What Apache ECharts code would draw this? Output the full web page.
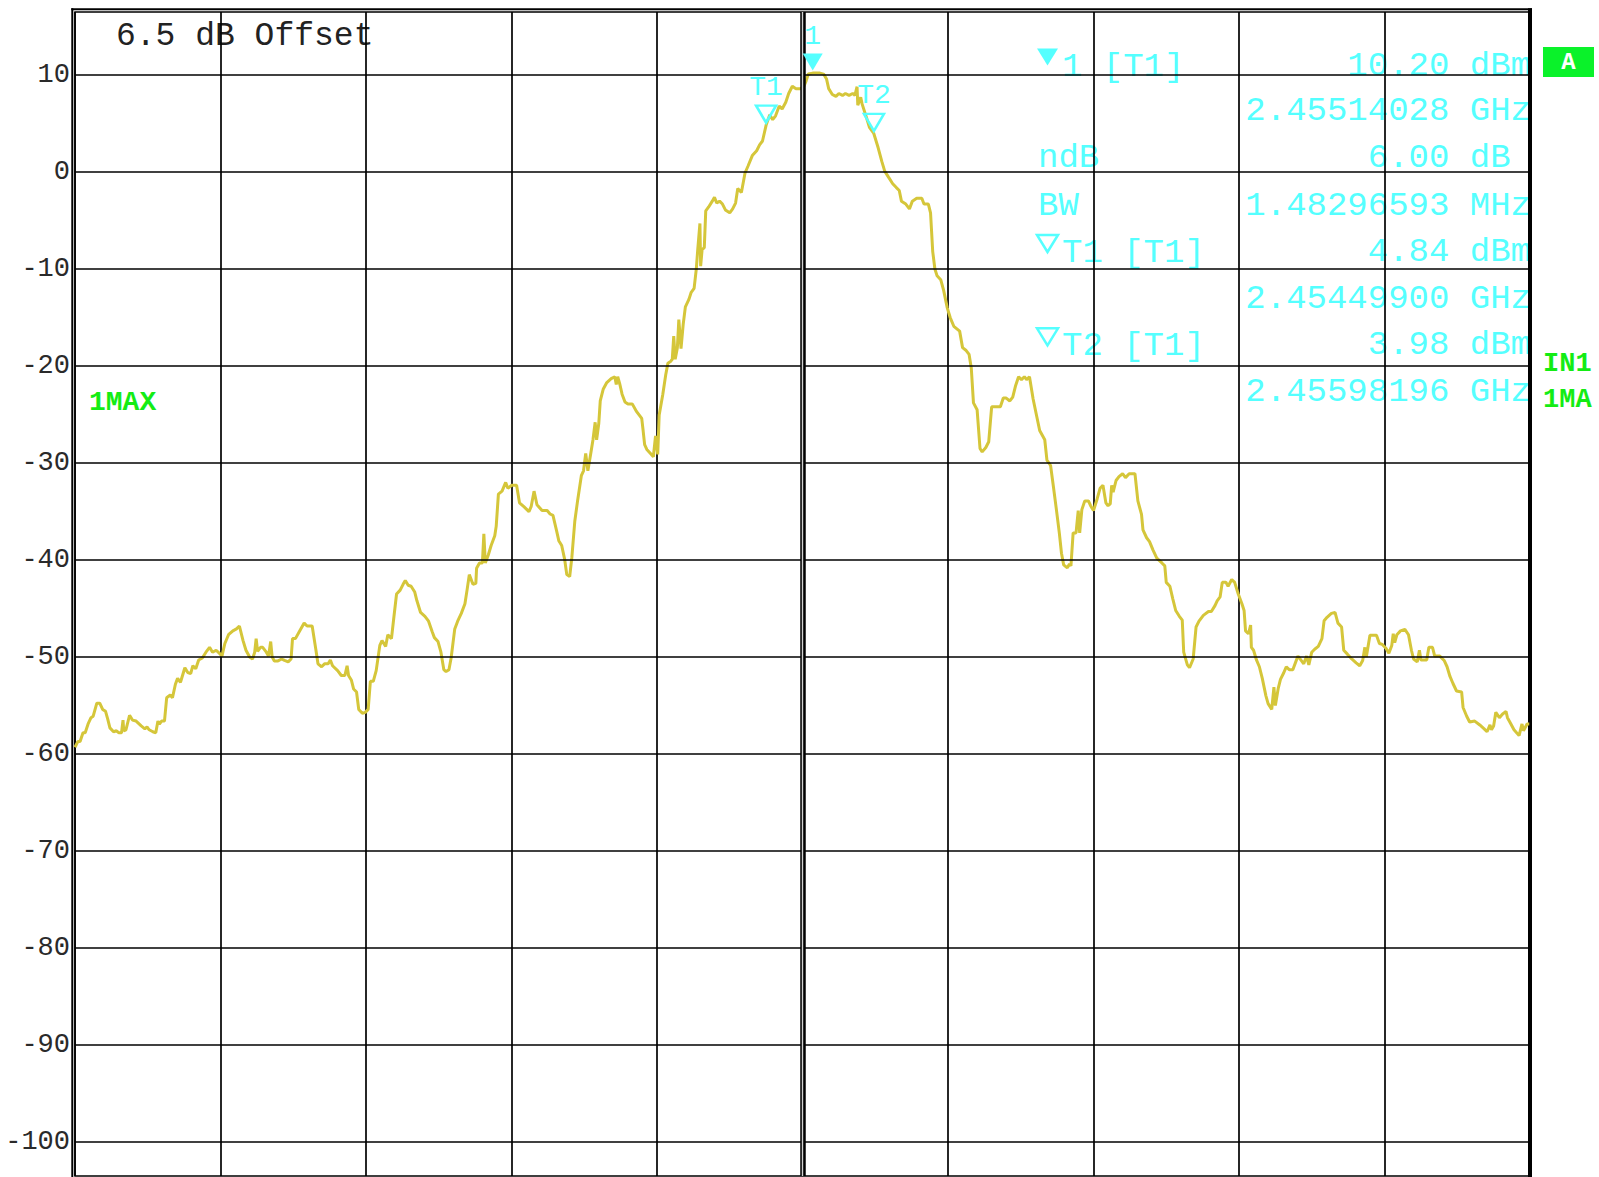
<!DOCTYPE html>
<html>
<head>
<meta charset="utf-8">
<title>Spectrum 2.455 GHz</title>
<script src="https://cdn.jsdelivr.net/npm/echarts@6/dist/echarts.min.js"></script>
<style>
  html, body { margin: 0; padding: 0; background: #fff; }
  #chart { width: 1599px; height: 1177px; }
</style>
</head>
<body>
<div id="chart"></div>
<script>
// frequency offset from centre 2.455 GHz (MHz), span 20 MHz
const offsetMHz = [
  -10.00, -9.96, -9.93, -9.89, -9.86, -9.82, -9.78, -9.75, -9.70, -9.66,
  -9.62, -9.58, -9.55, -9.52, -9.47, -9.43, -9.40, -9.36, -9.34, -9.33,
  -9.30, -9.25, -9.21, -9.16, -9.09, -9.04, -9.01, -8.98, -8.93, -8.89,
  -8.86, -8.84, -8.81, -8.77, -8.74, -8.69, -8.66, -8.62, -8.59, -8.55,
  -8.49, -8.45, -8.41, -8.38, -8.34, -8.30, -8.25, -8.20, -8.15, -8.11,
  -8.06, -8.01, -7.98, -7.94, -7.89, -7.83, -7.78, -7.74, -7.69, -7.65,
  -7.60, -7.56, -7.53, -7.51, -7.49, -7.45, -7.42, -7.37, -7.34, -7.31,
  -7.29, -7.26, -7.21, -7.16, -7.12, -7.07, -7.03, -7.01, -6.97, -6.91,
  -6.85, -6.81, -6.74, -6.69, -6.66, -6.61, -6.57, -6.52, -6.49, -6.46,
  -6.39, -6.34, -6.29, -6.26, -6.24, -6.20, -6.17, -6.13, -6.10, -6.05,
  -6.01, -5.97, -5.94, -5.90, -5.86, -5.81, -5.78, -5.73, -5.70, -5.65,
  -5.62, -5.58, -5.53, -5.49, -5.46, -5.42, -5.38, -5.33, -5.30, -5.25,
  -5.19, -5.14, -5.09, -5.06, -5.01, -4.97, -4.93, -4.90, -4.86, -4.83,
  -4.78, -4.74, -4.69, -4.64, -4.61, -4.58, -4.53, -4.49, -4.48, -4.44,
  -4.40, -4.38, -4.36, -4.32, -4.28, -4.23, -4.21, -4.18, -4.13, -4.08,
  -4.05, -4.00, -3.93, -3.89, -3.83, -3.76, -3.73, -3.69, -3.65, -3.58,
  -3.51, -3.47, -3.43, -3.38, -3.35, -3.31, -3.27, -3.24, -3.20, -3.17,
  -3.13, -3.09, -3.04, -3.01, -2.98, -2.95, -2.91, -2.88, -2.85, -2.83,
  -2.80, -2.78, -2.74, -2.69, -2.63, -2.58, -2.56, -2.54, -2.51, -2.48,
  -2.44, -2.40, -2.34, -2.28, -2.21, -2.19, -2.17, -2.14, -2.08, -2.05,
  -2.02, -1.99, -1.97, -1.92, -1.88, -1.85, -1.81, -1.79, -1.77, -1.75,
  -1.72, -1.70, -1.67, -1.64, -1.61, -1.56, -1.53, -1.49, -1.46, -1.44,
  -1.41, -1.40, -1.38, -1.35, -1.33, -1.29, -1.24, -1.21, -1.18, -1.14,
  -1.10, -1.06, -1.00, -0.96, -0.92, -0.89, -0.84, -0.79, -0.75, -0.69,
  -0.63, -0.59, -0.55, -0.50, -0.45, -0.41, -0.37, -0.32, -0.28, -0.23,
  -0.19, -0.14, -0.09, -0.03, 0.02, 0.05, 0.08, 0.14, 0.17, 0.24,
  0.29, 0.33, 0.36, 0.41, 0.46, 0.50, 0.55, 0.59, 0.64, 0.69,
  0.72, 0.75, 0.76, 0.80, 0.82, 0.88, 0.92, 0.98, 1.04, 1.09,
  1.13, 1.18, 1.24, 1.29, 1.33, 1.36, 1.42, 1.47, 1.51, 1.57,
  1.64, 1.67, 1.73, 1.76, 1.79, 1.82, 1.85, 1.90, 1.94, 1.99,
  2.03, 2.08, 2.16, 2.20, 2.25, 2.29, 2.32, 2.35, 2.40, 2.44,
  2.47, 2.52, 2.56, 2.60, 2.67, 2.72, 2.76, 2.80, 2.85, 2.89,
  2.93, 2.97, 3.01, 3.05, 3.08, 3.12, 3.17, 3.22, 3.26, 3.33,
  3.36, 3.41, 3.45, 3.49, 3.53, 3.56, 3.59, 3.64, 3.67, 3.69,
  3.72, 3.76, 3.79, 3.81, 3.84, 3.88, 3.93, 3.96, 4.00, 4.05,
  4.09, 4.13, 4.17, 4.20, 4.23, 4.25, 4.27, 4.31, 4.35, 4.40,
  4.44, 4.49, 4.57, 4.61, 4.66, 4.68, 4.73, 4.77, 4.82, 4.87,
  4.94, 4.98, 5.00, 5.05, 5.09, 5.13, 5.18, 5.22, 5.24, 5.29,
  5.32, 5.37, 5.41, 5.45, 5.51, 5.58, 5.62, 5.67, 5.70, 5.74,
  5.77, 5.82, 5.85, 5.90, 5.94, 5.99, 6.04, 6.07, 6.09, 6.13,
  6.16, 6.17, 6.20, 6.24, 6.28, 6.32, 6.37, 6.40, 6.45, 6.48,
  6.50, 6.54, 6.57, 6.61, 6.65, 6.69, 6.74, 6.78, 6.81, 6.86,
  6.89, 6.93, 6.96, 7.00, 7.04, 7.09, 7.14, 7.17, 7.21, 7.27,
  7.32, 7.36, 7.41, 7.44, 7.49, 7.55, 7.61, 7.66, 7.70, 7.73,
  7.75, 7.80, 7.84, 7.89, 7.93, 7.97, 8.02, 8.06, 8.10, 8.12,
  8.14, 8.17, 8.22, 8.28, 8.33, 8.37, 8.40, 8.45, 8.48, 8.50,
  8.58, 8.61, 8.66, 8.69, 8.76, 8.82, 8.86, 8.90, 8.94, 8.99,
  9.06, 9.08, 9.13, 9.17, 9.24, 9.31, 9.37, 9.41, 9.45, 9.47,
  9.50, 9.53, 9.58, 9.62, 9.67, 9.69, 9.73, 9.78, 9.85, 9.89,
  9.91, 9.96, 9.99
];

// trace 1 (max hold), dBm incl. 6.5 dB offset
const levelDbm = [
  -59.3, -58.7, -58.7, -57.8, -57.8, -56.9, -56.25, -56.1, -54.75, -54.75,
  -55.4, -55.6, -56.4, -57.3, -57.7, -57.6, -57.8, -57.8, -56.5, -57.6,
  -57.5, -56.0, -56.5, -56.6, -57.1, -57.4, -57.2, -57.5, -57.7, -57.8,
  -56.6, -56.9, -56.6, -56.6, -54.2, -53.9, -54.2, -52.8, -52.2, -52.6,
  -51.1, -51.6, -51.7, -50.9, -51.2, -50.3, -50.1, -49.5, -49.0, -49.5,
  -49.3, -49.65, -49.9, -48.6, -47.7, -47.3, -47.1, -46.8, -48.3, -49.3,
  -50.0, -50.2, -49.5, -48.1, -49.4, -49.0, -49.0, -49.5, -49.9, -48.4,
  -50.0, -50.4, -50.4, -50.2, -50.35, -50.5, -50.2, -48.1, -48.1, -47.3,
  -46.5, -46.8, -46.8, -49.2, -50.7, -51.0, -50.7, -50.7, -50.3, -50.9,
  -51.4, -51.9, -51.9, -50.9, -51.9, -52.4, -53.3, -53.6, -55.4, -55.8,
  -55.7, -55.4, -52.5, -52.5, -51.4, -48.8, -48.3, -48.9, -47.7, -48.1,
  -46.1, -43.5, -43.1, -42.5, -42.1, -42.6, -42.7, -43.3, -44.2, -45.4,
  -45.8, -46.3, -47.4, -48.0, -48.4, -49.5, -51.3, -51.5, -51.3, -50.1,
  -47.1, -46.3, -45.5, -44.5, -43.05, -41.5, -42.5, -42.4, -40.85, -40.3,
  -40.3, -37.3, -40.3, -39.5, -38.5, -37.5, -36.5, -33.2, -32.9, -32.0,
  -32.6, -32.3, -32.3, -34.1, -34.5, -35.0, -34.5, -32.9, -34.3, -34.9,
  -34.9, -35.25, -35.4, -37.0, -38.0, -38.5, -39.9, -41.5, -41.7, -39.7,
  -36.0, -33.8, -31.3, -30.8, -29.0, -30.8, -29.0, -27.6, -25.8, -27.6,
  -25.9, -23.6, -22.4, -21.7, -21.3, -21.1, -21.9, -21.1, -21.9, -22.9,
  -23.7, -23.9, -23.9, -24.7, -25.4, -26.7, -28.1, -28.6, -29.1, -29.35,
  -27.2, -29.1, -25.05, -22.9, -20.9, -19.7, -19.5, -19.3, -16.9, -19.3,
  -18.1, -15.2, -18.2, -15.7, -13.9, -13.1, -12.4, -12.0, -10.0, -8.0,
  -5.3, -9.7, -8.0, -7.8, -4.0, -3.6, -3.0, -2.6, -3.2, -3.0,
  -3.3, -3.9, -4.2, -3.8, -3.2, -1.7, -2.1, -0.1, 0.6, 1.7,
  2.2, 2.8, 3.2, 4.84, 5.9, 5.4, 5.8, 6.8, 6.5, 7.2,
  8.1, 8.85, 8.6, 8.6, 8.85, 9.4, 10.1, 10.2, 10.2, 10.2,
  10.1, 9.6, 8.6, 8.0, 7.8, 8.1, 7.9, 8.1, 7.9, 8.1,
  7.9, 8.8, 6.9, 7.7, 7.0, 5.6, 4.6, 3.98, 2.5, 1.1,
  0.1, -0.5, -1.2, -1.6, -1.9, -3.0, -3.3, -3.8, -3.0, -2.7,
  -2.7, -3.3, -3.3, -4.2, -8.2, -10.0, -10.7, -11.1, -12.2, -14.0,
  -15.0, -15.9, -16.4, -18.1, -18.4, -18.8, -20.2, -23.8, -24.5, -28.5,
  -28.85, -28.4, -27.8, -24.2, -24.2, -24.2, -23.3, -23.3, -23.6, -23.2,
  -22.0, -21.1, -21.4, -21.1, -21.4, -21.1, -23.4, -25.2, -26.65, -27.6,
  -29.7, -30.25, -32.5, -34.8, -37.2, -39.3, -40.5, -40.8, -40.4, -40.6,
  -37.2, -37.2, -34.9, -37.2, -34.8, -33.9, -33.9, -34.4, -34.9, -33.7,
  -32.6, -32.3, -34.1, -34.4, -34.2, -32.3, -33.0, -31.8, -31.4, -31.1,
  -31.5, -31.1, -31.1, -33.9, -35.3, -36.9, -37.7, -38.1, -39.0, -39.8,
  -40.3, -40.6, -42.3, -42.7, -44.0, -45.2, -45.8, -46.2, -49.5, -50.8,
  -51.1, -50.2, -46.9, -46.3, -45.7, -45.3, -45.3, -44.7, -44.2, -43.8,
  -42.3, -42.3, -42.7, -42.0, -42.3, -43.5, -44.5, -45.2, -47.3, -47.6,
  -46.7, -49.0, -49.3, -50.3, -51.0, -52.2, -54.0, -54.8, -55.4, -53.1,
  -55.0, -53.2, -52.3, -51.7, -51.0, -51.3, -51.3, -50.5, -49.9, -50.4,
  -50.7, -49.9, -50.8, -49.5, -49.2, -48.9, -48.1, -46.25, -45.9, -45.5,
  -45.4, -46.5, -46.9, -49.3, -49.7, -50.2, -50.6, -50.9, -50.35, -49.0,
  -50.0, -47.75, -47.75, -47.75, -48.6, -48.7, -49.1, -49.6, -48.8, -47.6,
  -48.5, -47.7, -47.3, -47.15, -47.7, -49.3, -50.2, -50.5, -49.3, -50.3,
  -50.3, -49.0, -49.0, -49.9, -49.9, -50.35, -51.0, -52.0, -52.7, -53.5,
  -53.6, -55.2, -56.1, -56.7, -56.6, -57.0, -57.4, -57.7, -57.0, -57.5,
  -57.1, -55.7, -56.25, -55.9, -55.6, -56.25, -56.8, -57.5, -58.1, -56.9,
  -57.6, -56.9, -56.9
];

// 10 dB/div, ref level 16.5 dBm
const gridLevels = [-100, -90, -80, -70, -60, -50, -40, -30, -20, -10, 0, 10];

// markers: peak marker 1 and the two n dB down markers
const markerNames = ['1', 'T1', 'T2'];
const markerOffsetMHz = [0.14028, -0.50100, 0.98196];
const markerLevel = [10.20, 4.84, 3.98];
const markerFilled = [true, false, false];

if (offsetMHz.length !== levelDbm.length) {
  console.warn('trace length mismatch', offsetMHz.length, levelDbm.length);
}

const traceData = offsetMHz.map((f, i) => [f, levelDbm[i]]);

const MONO = '"Liberation Mono", "DejaVu Sans Mono", monospace';
const CYAN = '#55ffff';
const GREEN = '#14ec14';
const TRACE = '#d5c63a';
const TRI = 'path://M0,0L20,0L10,17Z';

const markLines = gridLevels.map(v => ({
  yAxis: v,
  label: {
    show: true,
    position: 'start',
    distance: 5,
    formatter: String(v),
    color: '#2a2a2a',
    fontFamily: MONO,
    fontSize: 27
  }
}));
// double centre line
markLines.push({ xAxis: 0, label: { show: false }, lineStyle: { width: 5.5, color: '#000' } });
markLines.push({ xAxis: 0, label: { show: false }, lineStyle: { width: 1.4, color: '#d0d0d0' } });

const markPoints = markerNames.map((n, i) => ({
  name: n,
  coord: [markerOffsetMHz[i], markerLevel[i]],
  symbol: TRI,
  symbolSize: [20, 17],
  symbolOffset: [0, -11],
  itemStyle: markerFilled[i]
    ? { color: CYAN }
    : { color: 'rgba(0,0,0,0)', borderColor: CYAN, borderWidth: 2.5 },
  label: {
    show: true,
    position: 'top',
    distance: 3,
    formatter: n,
    color: CYAN,
    fontFamily: MONO,
    fontSize: 28
  }
}));

// marker info block on the right
const infoRows = [
  { y: 65.5, left: '1 [T1]', right: '10.20 dBm', tri: 'filled' },
  { y: 111, right: '2.45514028 GHz' },
  { y: 158, left0: 'ndB', right: '6.00 dB', shift: 20.4 },
  { y: 206, left0: 'BW', right: '1.48296593 MHz' },
  { y: 252, left: 'T1 [T1]', right: '4.84 dBm', tri: 'hollow' },
  { y: 298.7, right: '2.45449900 GHz' },
  { y: 345.3, left: 'T2 [T1]', right: '3.98 dBm', tri: 'hollow' },
  { y: 392, right: '2.45598196 GHz' }
];

const graphics = [];
infoRows.forEach(r => {
  const font = '34px ' + MONO;
  if (r.left) {
    graphics.push({ type: 'text', x: 1062, y: r.y + 1, silent: true,
      style: { text: r.left, fill: CYAN, font: font, verticalAlign: 'middle' } });
  }
  if (r.left0) {
    graphics.push({ type: 'text', x: 1038, y: r.y, silent: true,
      style: { text: r.left0, fill: CYAN, font: font, verticalAlign: 'middle' } });
  }
  graphics.push({ type: 'text', x: 1531 - (r.shift || 0), y: r.y, silent: true,
    style: { text: r.right, fill: CYAN, font: font, align: 'right', verticalAlign: 'middle' } });
  if (r.tri) {
    graphics.push({ type: 'polygon', silent: true,
      shape: { points: [[1037, r.y - 17], [1058, r.y - 17], [1047.5, r.y]] },
      style: r.tri === 'filled'
        ? { fill: CYAN }
        : { fill: 'none', stroke: CYAN, lineWidth: 2.5 } });
  }
});

// outer frame pieces
graphics.push(
  { type: 'line', silent: true, shape: { x1: 72.3, y1: 8.3, x2: 72.3, y2: 1177 }, style: { stroke: '#000', lineWidth: 2 } },
  { type: 'line', silent: true, shape: { x1: 71.3, y1: 9.3, x2: 1532, y2: 9.3 }, style: { stroke: '#000', lineWidth: 2 } },
  { type: 'line', silent: true, shape: { x1: 1530, y1: 8.3, x2: 1530, y2: 1177 }, style: { stroke: '#000', lineWidth: 4 } },
  { type: 'text', x: 116, y: 36, silent: true,
    style: { text: '6.5 dB Offset', fill: '#222', font: '33px ' + MONO, verticalAlign: 'middle' } },
  { type: 'text', x: 89, y: 402, silent: true,
    style: { text: '1MAX', fill: GREEN, font: 'bold 28px ' + MONO, verticalAlign: 'middle' } },
  { type: 'text', x: 1543, y: 364, silent: true,
    style: { text: 'IN1', fill: GREEN, font: 'bold 27px ' + MONO, verticalAlign: 'middle' } },
  { type: 'text', x: 1543, y: 400, silent: true,
    style: { text: '1MA', fill: GREEN, font: 'bold 27px ' + MONO, verticalAlign: 'middle' } },
  { type: 'rect', silent: true, shape: { x: 1543, y: 47, width: 51, height: 30 }, style: { fill: '#0af22a' } },
  { type: 'text', x: 1568.5, y: 62, silent: true,
    style: { text: 'A', fill: '#fff', font: 'bold 24px ' + MONO, align: 'center', verticalAlign: 'middle' } }
);

const chart = echarts.init(document.getElementById('chart'), null, { renderer: 'svg' });

const option = {
  animation: false,
  backgroundColor: '#fff',
  grid: {
    left: 75,
    top: 12,
    width: 1455,
    height: 1164,
    show: true,
    borderColor: '#000',
    borderWidth: 1.5,
    backgroundColor: 'transparent'
  },
  xAxis: {
    type: 'value',
    min: -10,
    max: 10,
    interval: 2,
    axisLine: { show: false },
    axisTick: { show: false },
    axisLabel: { show: false },
    splitLine: { show: true, lineStyle: { color: '#000', width: 1.7 } }
  },
  yAxis: {
    type: 'value',
    min: -103.5,
    max: 16.5,
    axisLine: { show: false },
    axisTick: { show: false },
    axisLabel: { show: false },
    splitLine: { show: false }
  },
  series: [
    {
      // carries the horizontal grid and its labels, drawn under the trace
      name: 'grid',
      type: 'line',
      data: traceData,
      showSymbol: false,
      lineStyle: { opacity: 0 },
      silent: true,
      z: 1,
      markLine: {
        silent: true,
        symbol: ['none', 'none'],
        lineStyle: { color: '#000', width: 1.7, type: 'solid' },
        emphasis: { disabled: true },
        data: markLines
      }
    },
    {
      name: 'Trace 1',
      type: 'line',
      data: traceData,
      showSymbol: false,
      smooth: false,
      lineStyle: { color: TRACE, width: 3 },
      z: 3,
      markPoint: {
        silent: true,
        data: markPoints
      }
    }
  ],
  graphic: graphics
};

chart.setOption(option);
</script>
</body>
</html>
